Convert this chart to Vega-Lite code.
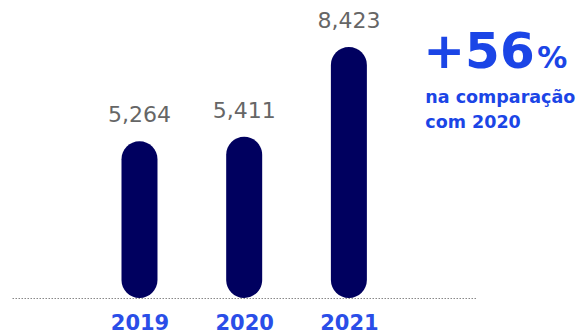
{
  "$schema": "https://vega.github.io/schema/vega-lite/v6.json",
  "width": 465,
  "height": 298,
  "autosize": {"type": "none"},
  "padding": {"left": 12, "top": 0, "right": 109, "bottom": 37},
  "background": "white",
  "config": {"view": {"stroke": null}, "font": "DejaVu Sans"},
  "datasets": {
    "bars": [
      {"year": 2019, "value": 5264, "label": "5,264"},
      {"year": 2020, "value": 5411, "label": "5,411"},
      {"year": 2021, "value": 8423, "label": "8,423"}
    ],
    "notes": [
      {"x": 2021.71, "y": 7718, "text": "+56", "size": 50},
      {"x": 2022.80, "y": 7718, "text": "%", "size": 30},
      {"x": 2021.73, "y": 6544, "text": "na comparação", "size": 17.5},
      {"x": 2021.73, "y": 5705, "text": "com 2020", "size": 17.5}
    ]
  },
  "layer": [
    {
      "data": {"name": "bars"},
      "mark": {"type": "bar", "width": 36, "cornerRadius": 18, "color": "#00005f"},
      "encoding": {
        "x": {
          "field": "year", "type": "quantitative",
          "scale": {"domain": [2017.83, 2022.176], "nice": false, "zero": false},
          "axis": {
            "values": [2019, 2020, 2021], "format": "d", "title": null,
            "grid": false, "ticks": false,
            "domainColor": "#888888", "domainDash": [1.5, 1.5], "domainWidth": 1,
            "labelFont": "DejaVu Sans", "labelFontSize": 21, "labelFontWeight": "bold",
            "labelColor": "#2a4ee8", "labelBaseline": "alphabetic", "labelPadding": 31, "labelFlush": false
          }
        },
        "y": {
          "field": "value", "type": "quantitative",
          "scale": {"domain": [0, 10000], "nice": false},
          "axis": null
        },
        "y2": {"datum": 0}
      }
    },
    {
      "data": {"name": "bars"},
      "mark": {"type": "text", "baseline": "alphabetic", "dy": -19, "fontSize": 22, "color": "#666666", "font": "DejaVu Sans"},
      "encoding": {
        "x": {"field": "year", "type": "quantitative"},
        "y": {"field": "value", "type": "quantitative"},
        "text": {"field": "label"}
      }
    },
    {
      "data": {"name": "notes"},
      "mark": {"type": "text", "align": "left", "baseline": "alphabetic", "fontWeight": "bold", "color": "#1b45e6", "font": "DejaVu Sans"},
      "encoding": {
        "x": {"field": "x", "type": "quantitative"},
        "y": {"field": "y", "type": "quantitative"},
        "text": {"field": "text"},
        "size": {"field": "size", "type": "quantitative", "scale": null, "legend": null}
      }
    }
  ]
}
